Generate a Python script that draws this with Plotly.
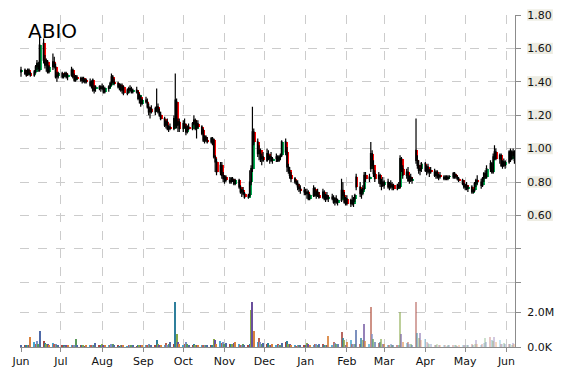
import plotly.graph_objects as go
import pandas as pd

# ---------------- data ----------------
dates = pd.bdate_range("2018-06-01", "2019-06-07")

opens = [
    1.46,1.47,1.45,1.44,1.47,1.45, 1.44,1.46,1.49,1.50,1.47, 1.63,1.53,1.50,1.52,1.46, 1.49,1.52,1.49,1.43,1.44,
    1.45,1.43,1.44,1.45,1.43, 1.44,1.47,1.43,1.41,1.43, 1.42,1.41,1.42,1.40,1.41, 1.40,1.38,1.41,1.35,1.36, 1.37,1.36,
    1.37,1.36,1.34, 1.36,1.37,1.38,1.43,1.40, 1.39,1.37,1.38,1.35,1.37, 1.33,1.35,1.36,1.35,1.34, 1.35,1.34,1.30,1.31,1.27,
    1.29,1.28,1.25,1.22,1.24, 1.22,1.24,1.25,1.22,1.20, 1.18,1.14,1.16,1.12,1.13, 1.12,1.14,1.28,1.14,1.16,
    1.12,1.15,1.13,1.10,1.13, 1.12,1.15,1.17,1.12,1.15, 1.13,1.11,1.05,1.07,1.05, 1.04,1.06,1.05,0.95,0.92, 0.86,0.90,0.84,
    0.82,0.83, 0.81,0.80,0.82,0.81,0.79, 0.81,0.77,0.74,0.75,0.73, 0.71,0.72,0.80,0.88,1.10, 1.04,0.97,0.99,0.94,0.95,
    0.93,0.97,0.94,0.95,0.93, 0.94,0.95,0.93,0.95,0.96, 1.04,0.98,0.89,0.87,0.84, 0.82,0.80,0.79,0.77,0.76, 0.75,
    0.74,0.73,0.74,0.70, 0.72,0.76,0.72,0.74,0.72, 0.71,0.74,0.70,0.72,0.70, 0.71,0.70,0.68,0.70,0.68, 0.69,0.75,0.72,0.68,
    0.70, 0.67,0.69,0.67,0.70,0.83, 0.77,0.73,0.74,0.76,0.84, 0.82,0.88,0.97,0.90,0.85, 0.82,0.84,0.79,0.80,
    0.78, 0.80,0.77,0.79,0.77,0.78, 0.76,0.78,0.77,0.94,0.88, 0.84,0.86,0.81,0.83,0.81, 0.99,0.93,0.90,0.87,0.88,
    0.91,0.87,0.89,0.86,0.87, 0.86,0.84,0.86,0.83,0.84, 0.83,0.82,0.83,0.82,0.83, 0.83,0.85,0.84,0.83,0.82, 0.81,0.79,
    0.77,0.78,0.76, 0.77,0.74,0.75,0.79,0.81, 0.80,0.78,0.82,0.85,0.83, 0.88,0.91,0.86,0.95,0.98, 0.94,0.96,0.90,0.92,0.90,
    0.92,0.98,0.94,0.98,0.96,
]
highs = [
    1.49,1.48,1.47,1.48,1.48,1.46, 1.47,1.50,1.53,1.52,1.67, 1.66,1.56,1.54,1.53,1.50, 1.57,1.55,1.51,1.46,1.46,
    1.46,1.45,1.46,1.46,1.45, 1.49,1.48,1.45,1.44,1.44, 1.43,1.43,1.43,1.42,1.42, 1.42,1.41,1.42,1.38,1.38, 1.38,1.38,
    1.39,1.38,1.37, 1.38,1.40,1.45,1.44,1.42, 1.40,1.39,1.39,1.39,1.38, 1.36,1.37,1.38,1.37,1.36, 1.37,1.35,1.33,1.32,1.30,
    1.31,1.30,1.27,1.25,1.26, 1.25,1.36,1.27,1.24,1.22, 1.19,1.17,1.18,1.14,1.15, 1.20,1.45,1.30,1.18,1.18,
    1.17,1.18,1.15,1.14,1.15, 1.16,1.20,1.18,1.17,1.17, 1.14,1.12,1.08,1.08,1.07, 1.07,1.07,1.06,0.96,0.94, 0.92,0.92,0.86,
    0.84,0.84, 0.83,0.83,0.83,0.82,0.82, 0.82,0.78,0.76,0.77,0.74, 0.73,0.87,0.90,1.25,1.12, 1.06,1.02,1.00,0.97,0.98,
    1.00,0.99,0.96,0.98,0.95, 0.97,0.96,0.96,0.97,1.05, 1.06,1.01,0.91,0.89,0.86, 0.83,0.81,0.81,0.79,0.78, 0.77,
    0.76,0.76,0.75,0.73, 0.78,0.77,0.75,0.76,0.74, 0.76,0.75,0.73,0.74,0.72, 0.73,0.72,0.71,0.72,0.70, 0.82,0.80,0.74,0.71,
    0.72, 0.70,0.72,0.71,0.73,0.85, 0.80,0.76,0.78,0.86,0.86, 0.85,1.04,0.99,0.93,0.87, 0.86,0.85,0.82,0.83,
    0.81, 0.82,0.80,0.81,0.80,0.79, 0.79,0.80,0.96,0.95,0.90, 0.88,0.89,0.84,0.85,0.83, 1.18,0.96,0.93,0.90,0.92,
    0.92,0.90,0.91,0.88,0.89, 0.88,0.87,0.87,0.85,0.86, 0.84,0.84,0.84,0.84,0.84, 0.86,0.86,0.85,0.84,0.83, 0.82,0.81,
    0.79,0.80,0.78, 0.78,0.76,0.80,0.82,0.84, 0.82,0.83,0.86,0.87,0.90, 0.93,0.92,0.97,1.02,1.00, 0.97,0.97,0.93,0.94,0.93,
    0.99,1.00,0.99,1.00,0.99,
]
lows = [
    1.43,1.44,1.43,1.44,1.44,1.43, 1.43,1.45,1.47,1.46,1.46, 1.51,1.48,1.46,1.45,1.45, 1.47,1.48,1.42,1.40,1.42,
    1.42,1.42,1.43,1.42,1.41, 1.43,1.42,1.40,1.40,1.41, 1.40,1.39,1.40,1.39,1.39, 1.37,1.36,1.34,1.33,1.34, 1.35,1.34,
    1.35,1.33,1.33, 1.34,1.36,1.38,1.39,1.38, 1.36,1.35,1.34,1.33,1.32, 1.32,1.33,1.34,1.33,1.33, 1.33,1.29,1.27,1.25,1.26,
    1.27,1.24,1.20,1.18,1.21, 1.20,1.22,1.21,1.19,1.17, 1.13,1.12,1.11,1.10,1.11, 1.11,1.12,1.12,1.10,1.10,
    1.10,1.12,1.08,1.09,1.11, 1.11,1.14,1.11,1.06,1.12, 1.08,1.04,1.03,1.04,1.03, 1.03,1.02,0.94,0.86,0.84, 0.84,0.82,0.80,
    0.79,0.80, 0.79,0.79,0.80,0.78,0.78, 0.76,0.73,0.71,0.72,0.70, 0.70,0.71,0.78,0.86,1.02, 0.95,0.93,0.92,0.90,0.92,
    0.92,0.93,0.91,0.92,0.91, 0.92,0.92,0.92,0.93,0.95, 0.96,0.86,0.85,0.82,0.80, 0.79,0.78,0.75,0.74,0.73, 0.72,
    0.72,0.70,0.69,0.69, 0.71,0.71,0.70,0.71,0.70, 0.70,0.69,0.68,0.69,0.68, 0.69,0.67,0.66,0.67,0.66, 0.68,0.70,0.67,0.66,
    0.66, 0.65,0.66,0.65,0.68,0.75, 0.71,0.70,0.72,0.75,0.80, 0.80,0.86,0.88,0.83,0.80, 0.79,0.77,0.75,0.77,
    0.76, 0.76,0.75,0.76,0.75,0.75, 0.75,0.76,0.76,0.86,0.82, 0.82,0.80,0.79,0.80,0.79, 0.91,0.88,0.85,0.84,0.86,
    0.86,0.84,0.85,0.83,0.85, 0.83,0.82,0.82,0.81,0.82, 0.81,0.81,0.81,0.81,0.82, 0.82,0.82,0.82,0.81,0.80, 0.78,0.76,
    0.75,0.75,0.74, 0.73,0.73,0.74,0.77,0.78, 0.76,0.77,0.80,0.82,0.82, 0.86,0.85,0.85,0.93,0.93, 0.91,0.89,0.88,0.89,0.88,
    0.91,0.92,0.93,0.94,0.91,
]
closes = [
    1.47,1.45,1.44,1.47,1.45,1.44, 1.46,1.49,1.51,1.48,1.62, 1.53,1.50,1.52,1.46,1.49, 1.52,1.49,1.43,1.44,1.45,
    1.43,1.44,1.45,1.43,1.44, 1.47,1.43,1.41,1.43,1.42, 1.41,1.42,1.40,1.41,1.40, 1.38,1.40,1.35,1.36,1.37, 1.36,1.37,
    1.36,1.34,1.36, 1.37,1.39,1.43,1.40,1.39, 1.37,1.38,1.35,1.37,1.33, 1.35,1.36,1.35,1.34,1.35, 1.34,1.30,1.32,1.27,1.29,
    1.28,1.25,1.22,1.24,1.22, 1.24,1.25,1.22,1.20,1.18, 1.14,1.16,1.12,1.13,1.12, 1.18,1.29,1.14,1.16,1.12,
    1.15,1.13,1.10,1.13,1.12, 1.15,1.17,1.12,1.15,1.13, 1.09,1.05,1.07,1.05,1.04, 1.06,1.03,0.95,0.92,0.86, 0.90,0.84,0.82,
    0.83,0.81, 0.80,0.82,0.81,0.79,0.81, 0.77,0.74,0.75,0.73,0.71, 0.72,0.80,0.88,1.10,1.04, 0.97,0.99,0.94,0.95,0.93,
    0.97,0.94,0.95,0.93,0.94, 0.95,0.93,0.95,0.96,1.04, 0.98,0.89,0.87,0.84,0.82, 0.80,0.79,0.77,0.76,0.75, 0.74,
    0.73,0.74,0.70,0.72, 0.76,0.72,0.74,0.72,0.71, 0.74,0.70,0.72,0.70,0.71, 0.70,0.68,0.70,0.68,0.69, 0.75,0.72,0.68,0.70,
    0.67, 0.69,0.67,0.70,0.72,0.77, 0.73,0.74,0.76,0.84,0.82, 0.83,0.97,0.90,0.85,0.82, 0.84,0.79,0.80,0.78,
    0.80, 0.77,0.79,0.77,0.78,0.76, 0.78,0.77,0.94,0.88,0.84, 0.86,0.81,0.83,0.81,0.82, 0.93,0.90,0.87,0.88,0.91,
    0.87,0.89,0.86,0.87,0.86, 0.84,0.86,0.83,0.84,0.83, 0.82,0.83,0.82,0.83,0.83, 0.85,0.84,0.83,0.82,0.81, 0.79,0.77,
    0.78,0.76,0.77, 0.74,0.75,0.79,0.81,0.80, 0.78,0.82,0.85,0.83,0.88, 0.91,0.86,0.95,0.98,0.94, 0.96,0.90,0.92,0.90,0.92,
    0.98,0.94,0.98,0.96,0.93,
]
# volume in millions of shares
volumes_m = [
    0.12,0.10,0.08,0.10,0.09,0.55, 0.30,0.15,0.32,0.20,0.92, 0.35,0.25,0.20,0.15,0.12, 0.22,0.20,0.18,0.10,0.09,
    0.08,0.06,0.05,0.07,0.06, 0.10,0.12,0.09,0.45,0.10, 0.07,0.06,0.08,0.05,0.06, 0.10,0.08,0.12,0.07,0.25, 0.08,0.07,
    0.18,0.08,0.07, 0.06,0.10,0.20,0.15,0.08, 0.06,0.05,0.07,0.06,0.08, 0.05,0.06,0.10,0.07,0.06, 0.05,0.08,0.12,0.09,0.07,
    0.06,0.10,0.15,0.08,0.12, 0.10,0.40,0.15,0.10,0.08, 0.12,0.25,0.10,0.15,0.30, 0.20,2.57,0.76,0.30,0.20,
    0.10,0.15,0.30,0.20,0.10, 0.08,0.15,0.12,0.10,0.08, 0.06,0.08,0.10,0.07,0.06, 0.08,0.10,0.45,0.40,0.20, 0.35,0.25,0.30,
    0.20,0.25, 0.15,0.20,0.18,0.25,0.30, 0.20,0.12,0.10,0.15,0.12, 0.10,0.20,2.10,2.57,0.90, 0.30,0.50,0.30,0.20,0.25,
    0.15,0.25,0.10,0.12,0.20, 0.10,0.15,0.08,0.12,0.25, 0.30,0.35,0.20,0.15,0.10, 0.08,0.05,0.10,0.12,0.08, 0.10,
    0.10,0.25,0.15,0.12, 0.10,0.15,0.20,0.10,0.20, 0.15,0.12,0.10,0.08,0.65, 0.10,0.30,0.25,0.15,0.20, 0.85,0.50,0.40,0.12,
    0.30, 0.40,0.20,0.15,0.20,0.95, 0.20,0.50,0.40,1.30,0.35, 0.20,2.30,0.75,0.45,0.30, 0.25,0.30,0.45,0.20,
    0.15, 0.12,0.10,0.15,0.10,0.12, 0.08,0.10,2.00,0.75,0.30, 0.25,0.30,0.20,0.15,0.12, 2.60,0.80,0.50,0.80,0.40,
    0.45,0.30,0.25,0.20,0.15, 0.12,0.10,0.15,0.08,0.10, 0.06,0.08,0.05,0.07,0.06, 0.08,0.10,0.06,0.05,0.07, 0.08,0.10,
    0.10,0.12,0.08, 0.15,0.10,0.20,0.40,0.15, 0.10,0.20,0.25,0.50,0.30, 0.60,0.40,0.35,0.55,0.30, 0.40,0.20,0.15,0.25,0.20,
    0.15,0.20,0.10,0.25,0.15,
]

price_ticks = [0.2, 0.4, 0.6, 0.8, 1.0, 1.2, 1.4, 1.6, 1.8]
price_labels = ["", "", "0.60", "0.80", "1.00", "1.20", "1.40", "1.60", "1.80"]
vol_ticks = [0, 2_000_000]
vol_labels = ["0.0K", "2.0M"]
ticker = "ABIO"

n = len(dates)
for arr in (opens, highs, lows, closes, volumes_m):
    if len(arr) != n:
        raise ValueError(f"length mismatch {len(arr)} vs {n}")

# ---------------- styling ----------------
PRICE_RANGE = [-0.188, 1.80]
palette = ['#4f6aa8', '#a8463f', '#2f7f9c', '#88a848', '#6a4f9c',
           '#d9823c', '#47a6d0', '#b8604f', '#7a8fc8', '#5c9c5c']
vol_colors = [palette[i % len(palette)] for i in range(n)]
fade_start, fade_end = 150, 215
vol_opacity = []
for i in range(n):
    if i < fade_start:
        vol_opacity.append(1.0)
    elif i < fade_end:
        vol_opacity.append(1.0 - 0.55 * (i - fade_start) / (fade_end - fade_start))
    else:
        vol_opacity.append(0.3)
GREEN = '#00b050'
RED = '#ff0000'
body_base = [min(o, c) for o, c in zip(opens, closes)]
body_h = [max(abs(c - o), 0.004) for o, c in zip(opens, closes)]
body_col = [GREEN if c >= o else RED for o, c in zip(opens, closes)]
DAY = 86400000
GRID = '#cccccc'
AXIS = '#8c8c8c'
FONT = dict(family="DejaVu Sans", size=11, color="#111111")

fig = go.Figure()
fig.add_trace(go.Bar(
    x=dates, y=[v * 1e6 for v in volumes_m], yaxis='y2',
    marker=dict(color=vol_colors, opacity=vol_opacity, line=dict(width=0)),
    width=0.8 * DAY, offset=-0.4 * DAY, showlegend=False, hoverinfo='skip'))
fig.add_trace(go.Candlestick(
    x=dates, open=opens, high=highs, low=lows, close=closes,
    increasing=dict(line=dict(color='black', width=1.2), fillcolor=GREEN),
    decreasing=dict(line=dict(color='black', width=1.2), fillcolor=RED),
    whiskerwidth=0, showlegend=False))
fig.add_trace(go.Bar(
    x=dates, y=body_h, base=body_base, yaxis='y',
    marker=dict(color=body_col, line=dict(width=0)),
    width=1.4 * DAY, offset=0.2 * DAY, showlegend=False, hoverinfo='skip'))

# beige backing boxes behind the price tick labels (paper coords, not clipped)
span = PRICE_RANGE[1] - PRICE_RANGE[0]
shapes = []
for v, t in zip(price_ticks, price_labels):
    if t:
        py = (v - PRICE_RANGE[0]) / span
        shapes.append(dict(type='rect', xref='paper', yref='paper', layer='below',
                           x0=1.0245, x1=1.0765, y0=py - 0.017, y1=py + 0.017,
                           fillcolor='#edece2', line=dict(width=0)))

fig.update_layout(
    width=570, height=370,
    margin=dict(l=20, r=54.5, t=15, b=23, autoexpand=False),
    paper_bgcolor='white', plot_bgcolor='white',
    barmode='overlay', bargap=0,
    shapes=shapes,
    xaxis=dict(type='date', range=["2018-05-31 06:00", "2019-06-07 10:00"],
               tick0="2018-06-01", dtick="M1", tickformat="%b",
               showgrid=True, gridcolor=GRID, griddash='dash', gridwidth=1,
               showline=True, linecolor=AXIS, linewidth=1,
               ticks='outside', ticklen=4, tickcolor=AXIS,
               tickfont=FONT, zeroline=False, automargin=False,
               rangeslider=dict(visible=False)),
    yaxis=dict(side='right', range=PRICE_RANGE,
               tickmode='array', tickvals=price_ticks, ticktext=price_labels,
               showgrid=True, gridcolor=GRID, griddash='dash', gridwidth=1,
               showline=True, linecolor=AXIS, linewidth=1,
               ticks='outside', ticklen=5, tickcolor=AXIS, automargin=False,
               tickfont=FONT, zeroline=False, ticklabelstandoff=4),
    yaxis2=dict(side='right', overlaying='y', range=[0, 18.97e6],
                tickmode='array', tickvals=vol_ticks, ticktext=vol_labels,
                showgrid=True, gridcolor=GRID, griddash='dash', gridwidth=1,
                showline=False, ticks='outside', ticklen=5, tickcolor=AXIS,
                automargin=False,
                tickfont=FONT, zeroline=False, ticklabelstandoff=4),
    annotations=[dict(text=ticker, xref='paper', yref='paper', x=0.013, y=0.951,
                      xanchor='left', yanchor='middle', showarrow=False,
                      font=dict(family="DejaVu Sans", size=20, color='black'))],
)

fig.write_html("out.html")
